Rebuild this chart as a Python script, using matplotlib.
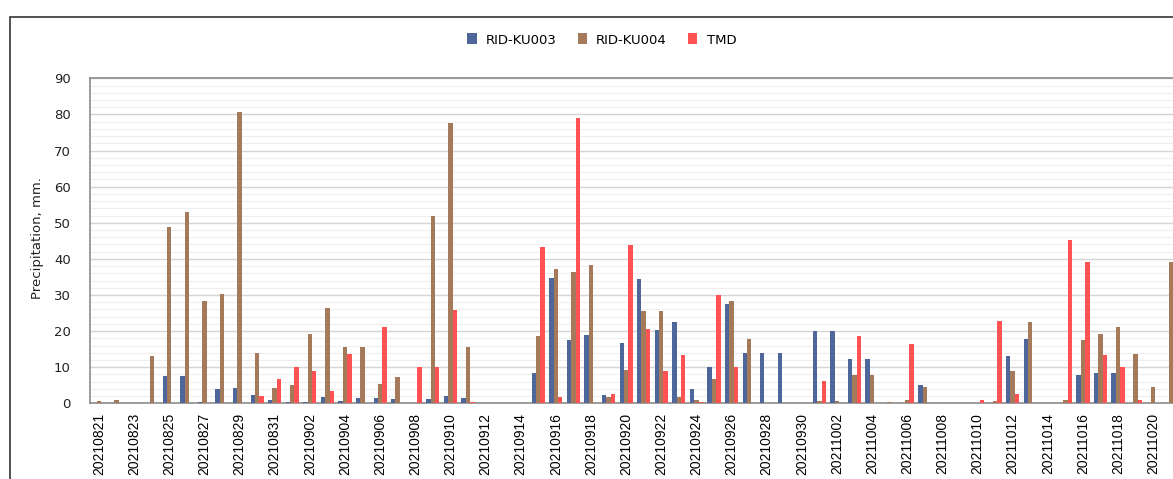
import numpy as np
import pandas as pd
import matplotlib.pyplot as plt
from matplotlib.patches import Rectangle
from matplotlib.ticker import MultipleLocator

# Daily rainfall, 21 Aug - 21 Oct 2021
dates = pd.date_range('2021-08-21', '2021-10-21').strftime('%Y%m%d').tolist()

rid_ku003 = [0, 0, 0, 0, 7.5, 7.5, 0.5, 3.9, 4.3, 2.3,
             0.9, 0.3, 0.5, 1.7, 0.6, 1.6, 1.6, 1.1, 0, 1.1,
             2.1, 1.6, 0, 0, 0, 8.5, 34.6, 17.5, 18.8, 2.3,
             16.8, 34.4, 20.3, 22.6, 3.9, 10.0, 27.6, 13.9, 13.9, 13.9,
             0, 19.9, 19.9, 12.4, 12.4, 0, 0, 5.2, 0, 0,
             0, 0, 13.0, 17.9, 0, 0, 7.8, 8.5, 8.5, 0,
             0, 0]
rid_ku004 = [0.6, 0.9, 0, 13.0, 48.7, 52.9, 28.3, 30.4, 80.7, 13.9,
             4.3, 5.2, 19.2, 26.4, 15.7, 15.7, 5.4, 7.4, 0, 51.9,
             77.6, 15.7, 0, 0, 0, 18.6, 37.2, 36.3, 38.3, 1.8,
             9.2, 25.6, 25.6, 1.8, 0.9, 6.6, 28.3, 17.9, 0, 0,
             0, 0.6, 0.6, 7.8, 7.8, 0.3, 0.9, 4.6, 0, 0,
             0, 0.6, 8.9, 22.6, 0, 0.9, 17.5, 19.2, 21.0, 13.7,
             4.6, 39.1]
tmd = [0, 0, 0, 0, 0, 0, 0, 0, 0, 2.0,
       6.6, 10.0, 9.0, 3.4, 13.7, 0, 21.2, 0, 10.0, 10.0,
       25.9, 0.4, 0, 0, 0, 43.3, 1.8, 78.9, 0, 2.5,
       43.8, 20.7, 9.0, 13.5, 0.5, 29.9, 10.0, 0, 0, 0,
       0, 6.3, 0, 18.7, 0, 0, 16.3, 0, 0, 0,
       0.9, 22.9, 2.5, 0, 0, 45.1, 39.2, 13.3, 10.0, 0.9,
       0, 43.9]

series = [('RID-KU003', rid_ku003, '#4e6699'),
          ('RID-KU004', rid_ku004, '#a47a5a'),
          ('TMD', tmd, '#ff5252')]

fig = plt.figure(figsize=(11.73, 4.79), dpi=100)
ax = fig.add_axes([0.0769, 0.158, 0.9287, 0.6785])

x = np.arange(len(dates))
w = 0.25
for i, (name, vals, col) in enumerate(series):
    ax.bar(x + (i - 1) * w, vals, width=w, color=col, label=name, zorder=3)

ax.set_xlim(-0.5, len(dates) - 0.5)
ax.set_ylim(0, 90)
ax.yaxis.set_major_locator(MultipleLocator(10))
ax.yaxis.set_minor_locator(MultipleLocator(2))
ax.grid(axis='y', which='major', color='#d4d4d4', lw=1.0, zorder=0)
ax.grid(axis='y', which='minor', color='#eeeeee', lw=0.8, zorder=0)

ax.set_xticks(x[::2])
ax.set_xticklabels(dates[::2], rotation=90, fontsize=10, family='Liberation Sans')
ax.tick_params(axis='x', length=0, pad=7)
ax.tick_params(axis='y', which='both', length=0, pad=14, labelsize=9.5, labelcolor='#222222')
for sp in ax.spines.values():
    sp.set_color('#8c8c8c')
    sp.set_linewidth(1.2)

fig.text(37 / 1173, 1 - 238 / 479, 'Precipitation, mm.', rotation=90,
         ha='center', va='center', fontsize=9.5, color='#222222')

fig.legend(loc='center', bbox_to_anchor=(0.513, 0.9165), ncol=3, frameon=False,
           fontsize=9.5, handlelength=0.7, handleheight=0.9, handletextpad=0.7,
           columnspacing=1.6)

# outer chart frame
fig.patches.append(Rectangle((9.5 / 1173, -0.1), 2, 1.1 - 17 / 479, transform=fig.transFigure,
                             fill=False, edgecolor='#333333', lw=1.2))

plt.savefig('out.png', dpi=100)
